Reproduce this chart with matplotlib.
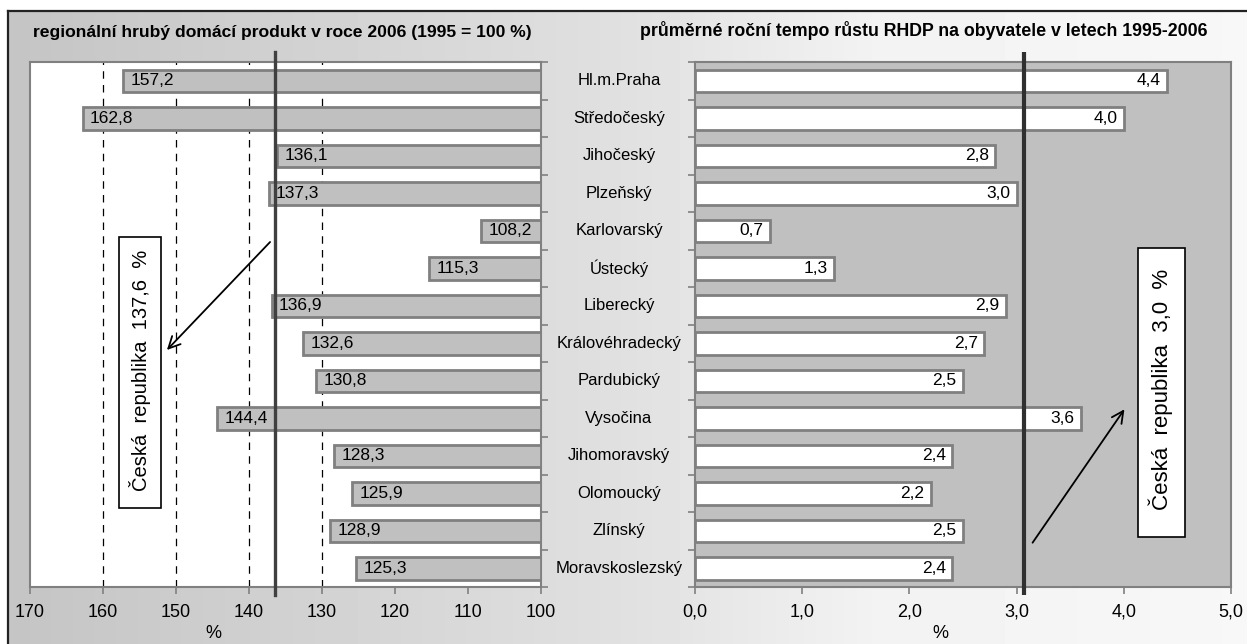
import numpy as np
import matplotlib
matplotlib.use('Agg')
import matplotlib.pyplot as plt
from matplotlib.patches import Rectangle, FancyArrowPatch

plt.rcParams['font.family'] = ['Liberation Sans', 'DejaVu Sans']

# data
regions = ['Hl.m.Praha', 'Středočeský', 'Jihočeský', 'Plzeňský', 'Karlovarský',
           'Ústecký', 'Liberecký', 'Královéhradecký', 'Pardubický', 'Vysočina',
           'Jihomoravský', 'Olomoucký', 'Zlínský', 'Moravskoslezský']
hdp_2006 = [157.2, 162.8, 136.1, 137.3, 108.2, 115.3, 136.9, 132.6, 130.8, 144.4,
            128.3, 125.9, 128.9, 125.3]
tempo = [4.4, 4.0, 2.8, 3.0, 0.7, 1.3, 2.9, 2.7, 2.5, 3.6, 2.4, 2.2, 2.5, 2.4]
cr_hdp = 137.6
cr_tempo = 3.0

title_left = 'regionální hrubý domácí produkt v roce 2006 (1995 = 100 %)'
title_right = 'průměrné roční tempo růstu RHDP na obyvatele v letech 1995-2006'

W, H = 1247, 644
fig = plt.figure(figsize=(W / 100, H / 100), dpi=100)

def fx(px):
    return px / W

def fy(py):
    return 1 - py / H

def cz(v):
    return f'{v:.1f}'.replace('.', ',')

# gradient background inside the frame
bg = fig.add_axes([fx(8), 0, 1 - fx(8), fy(11)])
grad = np.interp(np.linspace(0, 1, 400), [0, 0.5, 0.7, 1], [0.77, 0.88, 0.95, 0.97])
bg.imshow(np.tile(grad, (2, 1)), cmap='gray', vmin=0, vmax=1, aspect='auto',
          extent=[0, 1, 0, 1])
bg.set_xlim(0, 1)
bg.set_ylim(0, 1)
bg.axis('off')
fig.add_artist(plt.Line2D([fx(8), 1], [fy(11), fy(11)], color='#222222', lw=1.6))
fig.add_artist(plt.Line2D([fx(8), fx(8)], [0, fy(11)], color='#222222', lw=1.6))

y = np.arange(len(regions))
edge = '#808080'
bottom_px, top_px = 587, 62

# left panel
ax1 = fig.add_axes([fx(30), fy(bottom_px), fx(541) - fx(30), fy(top_px) - fy(bottom_px)])
ax1.set_facecolor('white')
ax1.barh(y, [v - 100 for v in hdp_2006], left=100, height=0.6, color='#c0c0c0',
         edgecolor=edge, linewidth=2, zorder=3)
for yi, v in zip(y, hdp_2006):
    ax1.text(v - 1.0, yi, cz(v), ha='left', va='center', fontsize=12.5, zorder=4)
ax1.set_xlim(170, 100)
ax1.set_ylim(len(regions) - 0.5, -0.5)
for g in [160, 150, 140, 130]:
    ax1.axvline(g, color='black', lw=0.9, ls=(0, (6, 5)), zorder=1)
ax1.plot([136.4, 136.4], [-0.015, 1.02], color='#404040', lw=2.4,
         transform=ax1.get_xaxis_transform(), clip_on=False, zorder=5)
ax1.set_xticks(range(170, 99, -10))
ax1.set_xticklabels([str(t) for t in range(170, 99, -10)], fontsize=13)
ax1.set_yticks(np.arange(-0.5, len(regions), 1))
ax1.set_yticklabels([])
ax1.yaxis.tick_right()
ax1.tick_params(axis='y', length=5, color=edge, width=1.2)
ax1.tick_params(axis='x', length=5, color=edge, width=1.2, pad=7)
for s in ax1.spines.values():
    s.set_color(edge)
    s.set_linewidth(1.5)

# right panel
ax2 = fig.add_axes([fx(695), fy(bottom_px), fx(1231) - fx(695), fy(top_px) - fy(bottom_px)])
ax2.set_facecolor('#c0c0c0')
ax2.barh(y, tempo, height=0.6, color='white', edgecolor=edge, linewidth=2, zorder=3)
for yi, v in zip(y, tempo):
    ax2.text(v - 0.06, yi, cz(v), ha='right', va='center', fontsize=12.5, zorder=4)
ax2.set_xlim(0, 5)
ax2.set_ylim(len(regions) - 0.5, -0.5)
ax2.plot([3.07, 3.07], [-0.015, 1.02], color='#303030', lw=3, solid_capstyle='butt',
         transform=ax2.get_xaxis_transform(), clip_on=False, zorder=5)
ax2.set_xticks(np.arange(0, 5.01, 1))
ax2.set_xticklabels([cz(t) for t in range(6)], fontsize=13)
ax2.set_yticks(np.arange(-0.5, len(regions), 1))
ax2.set_yticklabels([])
ax2.tick_params(axis='y', length=5, color=edge, width=1.2)
ax2.tick_params(axis='x', length=5, color=edge, width=1.2, pad=7)
for s in ax2.spines.values():
    s.set_color(edge)
    s.set_linewidth(1.5)

# region names between the panels
name_tr = matplotlib.transforms.blended_transform_factory(fig.transFigure, ax2.transData)
for yi, name in zip(y, regions):
    ax2.text(fx(619), yi, name, ha='center', va='center', fontsize=12, transform=name_tr)

# titles and axis labels
fig.text(fx(33), fy(33), title_left, fontsize=12.6, fontweight='bold', ha='left', va='center')
fig.text(fx(640), fy(31), title_right, fontsize=12.8, fontweight='bold', ha='left', va='center')
fig.text(fx(213), fy(633), '%', fontsize=13, ha='center', va='center')
fig.text(fx(940), fy(633), '%', fontsize=13, ha='center', va='center')

# Czech republic boxes
fig.add_artist(Rectangle((fx(119), fy(508)), fx(161) - fx(119), fy(237) - fy(508),
                         transform=fig.transFigure, facecolor='white', edgecolor='black', lw=1.2))
fig.text(fx(140), fy(370), 'Česká  republika  ' + cz(cr_hdp) + '  %',
         rotation=90, fontsize=14.5, ha='center', va='center')
fig.add_artist(Rectangle((fx(1138), fy(537)), fx(1185) - fx(1138), fy(248) - fy(537),
                         transform=fig.transFigure, facecolor='white', edgecolor='black', lw=1.2))
fig.text(fx(1161), fy(389), 'Česká  republika  ' + cz(cr_tempo) + '  %',
         rotation=90, fontsize=16, ha='center', va='center')

fig.add_artist(FancyArrowPatch((fx(272), fy(240)), (fx(165), fy(352)), transform=fig.transFigure,
                               arrowstyle='->,head_length=0.6,head_width=0.3', mutation_scale=14,
                               color='black', lw=1.3))
fig.add_artist(FancyArrowPatch((fx(1031), fy(545)), (fx(1126), fy(407)), transform=fig.transFigure,
                               arrowstyle='->,head_length=0.6,head_width=0.3', mutation_scale=14,
                               color='black', lw=1.3))

fig.savefig('out.png', dpi=100)
